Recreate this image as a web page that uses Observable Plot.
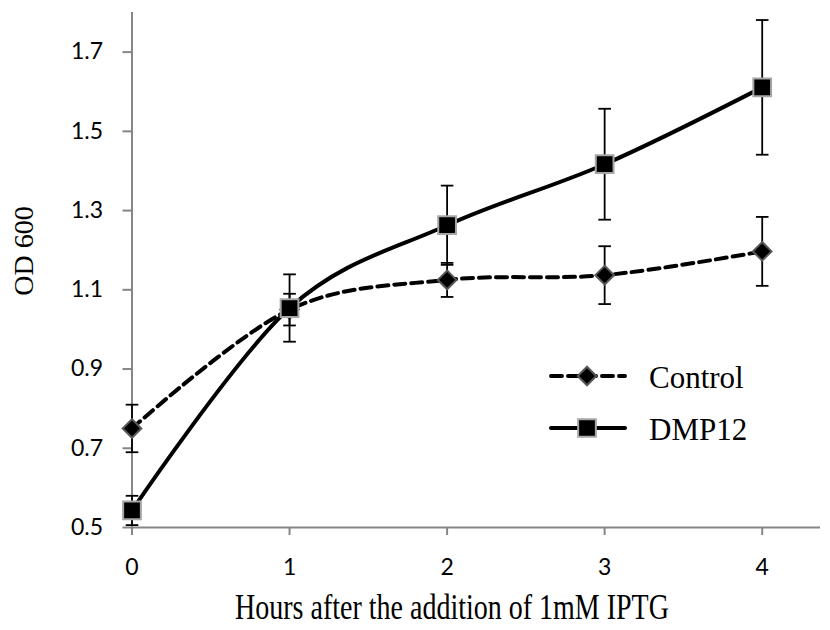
<!DOCTYPE html>
<html>
<head>
<meta charset="utf-8">
<script src="https://cdn.jsdelivr.net/npm/d3@7"></script>
<script src="https://cdn.jsdelivr.net/npm/@observablehq/plot@0.6"></script>
<style>
  html, body { margin: 0; padding: 0; background: #fff; }
  #chart { width: 830px; height: 630px; }
</style>
</head>
<body>
<div id="chart"></div>
<script>
// ---- data ----
const hours = [0, 1, 2, 3, 4];
const control = [0.75, 1.05, 1.125, 1.137, 1.197];
const controlErr = [0.06, 0.04, 0.043, 0.073, 0.087];
const dmp12 = [0.543, 1.054, 1.263, 1.417, 1.611];
const dmp12Err = [0.037, 0.085, 0.10, 0.14, 0.17];
const yTicks = [0.5, 0.7, 0.9, 1.1, 1.3, 1.5, 1.7];
const xTicks = [0, 1, 2, 3, 4];
const seriesNames = ["Control", "DMP12"];
const xLabel = "Hours after the addition of 1mM IPTG";
const yLabel = "OD 600";

const ctrlRows = hours.map((h, i) => ({hour: h, v: control[i], e: controlErr[i]}));
const dmpRows = hours.map((h, i) => ({hour: h, v: dmp12[i], e: dmp12Err[i]}));

const AXIS = "#868686";
const serif = "'Times New Roman', 'Liberation Serif', serif";
const sans = "Lato, Carlito, Calibri, sans-serif";

const capSymbol = {
  draw(ctx, size) {
    const w = Math.sqrt(size / Math.PI);
    ctx.moveTo(-w, 0);
    ctx.lineTo(w, 0);
  }
};

function errorMarks(rows) {
  return [
    Plot.ruleX(rows, {x: "hour", y1: d => d.v - d.e, y2: d => d.v + d.e, stroke: "#000", strokeWidth: 1.8}),
    Plot.dot(rows, {x: "hour", y: d => d.v + d.e, symbol: capSymbol, r: 6.3, stroke: "#000", strokeWidth: 1.8, fill: "none"}),
    Plot.dot(rows, {x: "hour", y: d => d.v - d.e, symbol: capSymbol, r: 6.3, stroke: "#000", strokeWidth: 1.8, fill: "none"})
  ];
}

const svg = Plot.plot({
  width: 830,
  height: 630,
  marginLeft: 131.5,
  marginRight: 10,
  marginTop: 12,
  marginBottom: 103,
  style: {background: "#fff", color: "#000", overflow: "visible"},
  x: {domain: [0, 4.37], axis: null},
  y: {domain: [0.5, 1.8], axis: null},
  marks: [
    Plot.axisY({ticks: yTicks, tickFormat: d3.format(".1f"), tickSize: 9, tickPadding: 20,
      stroke: AXIS, strokeWidth: 2, fill: "#000", fontSize: 23, fontFamily: sans, label: null}),
    Plot.axisX({ticks: xTicks, tickFormat: d3.format("d"), tickSize: 8, tickPadding: 23,
      stroke: AXIS, strokeWidth: 2, fill: "#000", fontSize: 23, fontFamily: sans, label: null}),
    Plot.ruleX([0], {stroke: AXIS, strokeWidth: 2}),
    Plot.ruleY([0.5], {stroke: AXIS, strokeWidth: 2}),
    // Control
    Plot.line(ctrlRows, {x: "hour", y: "v", curve: "cardinal", stroke: "#000", strokeWidth: 4, strokeDasharray: "11,6"}),
    ...errorMarks(ctrlRows),
    Plot.dot(ctrlRows, {x: "hour", y: "v", symbol: "diamond2", r: 8.4, fill: "#000", stroke: "#595959", strokeWidth: 2}),
    // DMP12
    Plot.line(dmpRows, {x: "hour", y: "v", curve: "cardinal", stroke: "#000", strokeWidth: 4}),
    ...errorMarks(dmpRows),
    Plot.dot(dmpRows, {x: "hour", y: "v", symbol: "square", r: 10, fill: "#000", stroke: "#a6a6a6", strokeWidth: 2})
  ]
});

const s = d3.select(svg);
s.selectAll("text")
  .attr("font-size", 23)
  .attr("font-family", sans);

// axis titles
s.append("text")
  .attr("transform", "translate(452,619) scale(1,1.25)")
  .attr("text-anchor", "middle")
  .attr("font-family", serif).attr("font-size", 28).attr("fill", "#000")
  .text(xLabel);
s.append("text")
  .attr("transform", "translate(33,251) rotate(-90)")
  .attr("text-anchor", "middle")
  .attr("font-family", serif).attr("font-size", 28).attr("fill", "#000")
  .text(yLabel);

// legend (inside plot area)
const lg = s.append("g");
const items = [
  {name: seriesNames[0], y: 376, dash: "11,6", sym: d3.symbolDiamond2, r: 8.4, st: "#595959"},
  {name: seriesNames[1], y: 428, dash: null, sym: d3.symbolSquare, r: 10, st: "#a6a6a6"}
];
items.forEach(it => {
  lg.append("line").attr("x1", 551).attr("x2", 625).attr("y1", it.y).attr("y2", it.y)
    .attr("stroke", "#000").attr("stroke-width", 4).attr("stroke-linecap", "round")
    .attr("stroke-dasharray", it.dash);
  lg.append("path").attr("transform", `translate(587,${it.y})`)
    .attr("d", d3.symbol(it.sym, Math.PI * it.r * it.r)())
    .attr("fill", "#000").attr("stroke", it.st).attr("stroke-width", 2);
  lg.append("text").attr("x", 649).attr("y", it.y + 12)
    .attr("text-anchor", "start")
    .attr("font-family", serif).attr("font-size", 31).attr("fill", "#000")
    .text(it.name);
});

document.getElementById("chart").appendChild(svg);
</script>
</body>
</html>
